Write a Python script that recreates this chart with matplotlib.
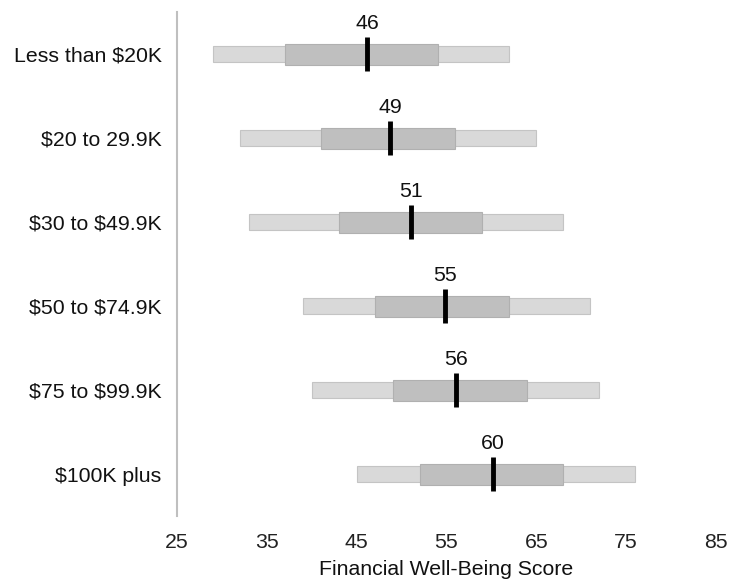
import matplotlib
matplotlib.use("Agg")
import matplotlib.pyplot as plt

categories = ["Less than $20K", "$20 to 29.9K", "$30 to $49.9K",
              "$50 to $74.9K", "$75 to $99.9K", "$100K plus"]
p10 = [29, 32, 33, 39, 40, 45]
p25 = [37, 41, 43, 47, 49, 52]
median = [46.2, 48.75, 51, 54.8, 56.1, 60.2]
median_labels = ["46", "49", "51", "55", "56", "60"]
p75 = [54, 56, 59, 62, 64, 68]
p90 = [62, 65, 68, 71, 72, 76]
xticks = [25, 35, 45, 55, 65, 75, 85]

plt.rcParams['font.family'] = ['Liberation Sans', 'DejaVu Sans']
plt.rcParams['text.parse_math'] = False

W, H = 731, 581
fig = plt.figure(figsize=(W / 100, H / 100), dpi=100)
ax = fig.add_axes([177 / W, 1 - 516 / H, (716 - 177) / W, (516 - 12) / H])

FS = 15.3
ys = list(range(len(categories)))
for i, y in enumerate(ys):
    ax.barh(y, p90[i] - p10[i], left=p10[i], height=0.19, color="#d9d9d9",
            edgecolor="#c4c4c4", linewidth=0.8, zorder=2)
    ax.barh(y, p75[i] - p25[i], left=p25[i], height=0.25, color="#bfbfbf",
            edgecolor="#b0b0b0", linewidth=0.8, zorder=3)
    ax.plot([median[i], median[i]], [y - 0.2, y + 0.2], color="black",
            linewidth=3.5, solid_capstyle="butt", zorder=4)
    ax.text(median[i], y - 0.25, median_labels[i], ha="center", va="bottom",
            fontsize=FS, color="#111111", zorder=5)

ax.set_xlim(25, 85)
ax.set_ylim(len(categories) - 0.5, -0.5)
ax.set_yticks(ys)
ax.set_yticklabels(categories, fontsize=FS, color="#111111")
ax.set_xticks(xticks)
ax.set_xticklabels([str(t) for t in xticks], fontsize=FS, color="#222222")
ax.tick_params(axis="both", length=0)
ax.tick_params(axis="y", pad=11)
ax.tick_params(axis="x", pad=12)
ax.set_xlabel("Financial Well-Being Score", fontsize=FS, color="#111111", labelpad=6)

for s in ["top", "right", "bottom"]:
    ax.spines[s].set_visible(False)
ax.spines["left"].set_color("#bfbfbf")
ax.spines["left"].set_linewidth(1.5)

fig.savefig("out.png", dpi=100)
